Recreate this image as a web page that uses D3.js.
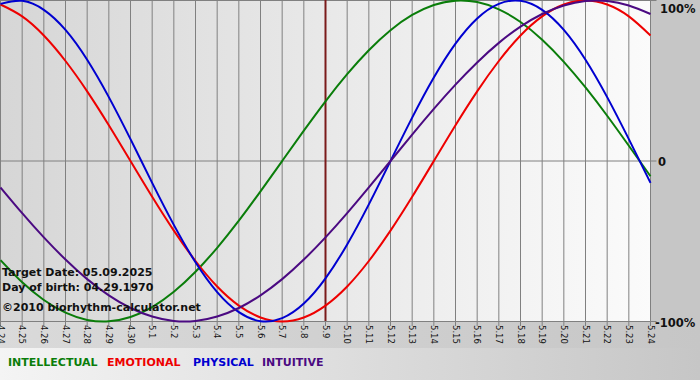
<!DOCTYPE html>
<html>
<head>
<meta charset="utf-8">
<script src="https://cdn.jsdelivr.net/npm/d3@7"></script>
<style>
html,body{margin:0;padding:0;background:#c8c8c8;}
svg{display:block;}
</style>
</head>
<body>
<svg id="chart" width="700" height="380"></svg>
<script>
const dayLabels = ["4.24","4.25","4.26","4.27","4.28","4.29","4.30","5.1","5.2","5.3","5.4","5.5","5.6","5.7","5.8","5.9","5.10","5.11","5.12","5.13","5.14","5.15","5.16","5.17","5.18","5.19","5.20","5.21","5.22","5.23","5.24"];
const intellectual = [-0.618,-0.756,-0.866,-0.945,-0.990,-0.999,-0.972,-0.910,-0.815,-0.690,-0.541,-0.372,-0.189,0,0.189,0.372,0.541,0.690,0.815,0.910,0.972,0.999,0.990,0.945,0.866,0.756,0.618,0.458,0.282,0.095,-0.095];
const emotional = [0.975,0.901,0.782,0.623,0.434,0.223,0,-0.223,-0.434,-0.623,-0.782,-0.901,-0.975,-1,-0.975,-0.901,-0.782,-0.623,-0.434,-0.223,0,0.223,0.434,0.623,0.782,0.901,0.975,1,0.975,0.901,0.782];
const physical = [0.979,0.998,0.942,0.817,0.631,0.398,0.136,-0.136,-0.398,-0.631,-0.817,-0.942,-0.998,-0.979,-0.888,-0.731,-0.520,-0.270,0,0.270,0.520,0.731,0.888,0.979,0.998,0.942,0.817,0.631,0.398,0.136,-0.136];
const intuitive = [-0.165,-0.325,-0.476,-0.614,-0.736,-0.837,-0.916,-0.969,-0.997,-0.997,-0.969,-0.916,-0.837,-0.736,-0.614,-0.476,-0.325,-0.165,0,0.165,0.325,0.476,0.614,0.736,0.837,0.916,0.969,0.997,0.997,0.969,0.916];
const seriesNames = ["INTELLECTUAL","EMOTIONAL","PHYSICAL","INTUITIVE"];
const seriesColors = ["#0a7d0a","#ee0000","#0000d0","#4b0a82"];
const yTickValues = [1,0,-1];
const yTickLabels = ["100%","0","-100%"];
const targetIndex = 15;
const infoLines = ["Target Date: 05.09.2025","Day of birth: 04.29.1970","\u00a92010 biorhythm-calculator.net"];

const svg = d3.select("#chart");
const defs = svg.append("defs");
const g1 = defs.append("linearGradient").attr("id","plotBg").attr("x1","0").attr("x2","1").attr("y1","0").attr("y2","0");
g1.append("stop").attr("offset","0").attr("stop-color","#d6d6d6");
g1.append("stop").attr("offset","1").attr("stop-color","#fbfbfb");
const g2 = defs.append("linearGradient").attr("id","legBg").attr("x1","0").attr("x2","1").attr("y1","0").attr("y2","0");
g2.append("stop").attr("offset","0").attr("stop-color","#f4f4f4");
g2.append("stop").attr("offset","1").attr("stop-color","#c6c6c6");
const g3 = defs.append("linearGradient").attr("id","lblBg").attr("x1","0").attr("x2","1").attr("y1","0").attr("y2","0");
g3.append("stop").attr("offset","0").attr("stop-color","#dadada");
g3.append("stop").attr("offset","1").attr("stop-color","#c6c6c6");

const x = d3.scaleLinear().domain([0, dayLabels.length-1]).range([0.5, 650.5]);
const y = d3.scaleLinear().domain([-1,1]).range([321.5, 0.5]);

svg.append("rect").attr("x",0).attr("y",0).attr("width",700).attr("height",380).attr("fill","#c6c6c6");
svg.append("rect").attr("x",0).attr("y",322).attr("width",700).attr("height",26).attr("fill","url(#lblBg)");
svg.append("rect").attr("x",0).attr("y",348).attr("width",700).attr("height",32).attr("fill","url(#legBg)");
svg.append("rect").attr("x",0).attr("y",0).attr("width",651).attr("height",321).attr("fill","url(#plotBg)");

// vertical gridlines
svg.append("g").selectAll("line").data(dayLabels).join("line")
  .attr("x1",(d,i)=>x(i)).attr("x2",(d,i)=>x(i))
  .attr("y1",0).attr("y2",326)
  .attr("stroke","#808080").attr("stroke-width",1);
// horizontal lines
svg.append("g").selectAll("line").data(yTickValues).join("line")
  .attr("x1",0).attr("x2",x(dayLabels.length-1)+6)
  .attr("y1",d=>y(d)).attr("y2",d=>y(d))
  .attr("stroke","#808080").attr("stroke-width",1);

// target marker
svg.append("line").attr("x1",x(targetIndex)).attr("x2",x(targetIndex)).attr("y1",0).attr("y2",321)
  .attr("stroke","#7a1a1a").attr("stroke-width",2);

// x tick labels (rotated)
svg.append("g").selectAll("text").data(dayLabels).join("text")
  .attr("transform",(d,i)=>`translate(${x(i)-3},325) rotate(90)`)
  .attr("font-family","DejaVu Sans, Verdana, sans-serif")
  .attr("font-size","8.5px")
  .attr("fill","#111")
  .text(d=>d);

// y labels
const yLabelPos = [[660,13],[658,166],[655,327]];
svg.append("g").selectAll("text").data(yTickLabels).join("text")
  .attr("x",(d,i)=>yLabelPos[i][0])
  .attr("y",(d,i)=>yLabelPos[i][1])
  .attr("font-family","DejaVu Sans, Verdana, sans-serif")
  .attr("font-weight","bold").attr("font-size","11.5px").attr("fill","#111")
  .text(d=>d);

const allSeries = [intellectual, emotional, physical, intuitive];
const line = d3.line().x((d,i)=>x(i)).y(d=>y(d)).curve(d3.curveNatural);
svg.append("g").selectAll("path").data(allSeries).join("path")
  .attr("d",line).attr("fill","none")
  .attr("stroke",(d,i)=>seriesColors[i]).attr("stroke-width",2);

// info text
svg.append("g").selectAll("text").data(infoLines).join("text")
  .attr("x",2).attr("y",(d,i)=>[276,291,311][i])
  .attr("font-family","DejaVu Sans, Verdana, sans-serif")
  .attr("font-weight","bold").attr("font-size","11px").attr("fill","#111")
  .text(d=>d);

// legend
const legendX = [8,107,193,262];
svg.append("g").selectAll("text").data(seriesNames).join("text")
  .attr("x",(d,i)=>legendX[i]).attr("y",366)
  .attr("font-family","DejaVu Sans, Verdana, sans-serif")
  .attr("font-weight","bold").attr("font-size","11px")
  .attr("fill",(d,i)=>seriesColors[i])
  .text(d=>d);
</script>
</body>
</html>
